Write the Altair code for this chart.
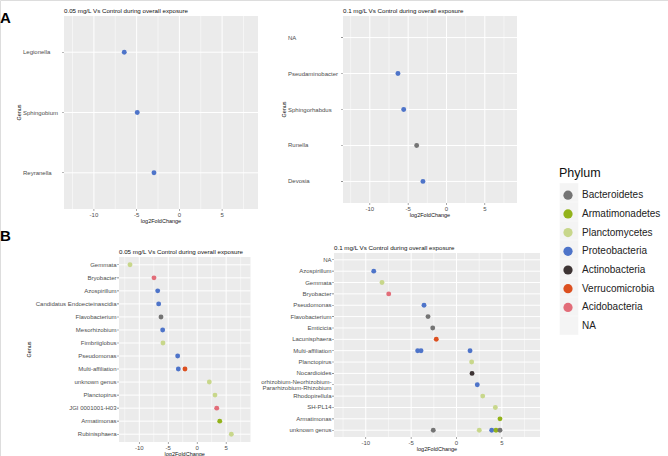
import altair as alt
import pandas as pd

FONT = "Liberation Sans"
CANVAS_W, CANVAS_H = 668, 456

PHYLA = ["Bacteroidetes", "Armatimonadetes", "Planctomycetes", "Proteobacteria",
         "Actinobacteria", "Verrucomicrobia", "Acidobacteria", "NA"]
PHYLA_COLORS = ["#747474", "#93b31b", "#c8d78b", "#4e74c9",
                "#3d3434", "#dc5020", "#e26d79", "rgba(0,0,0,0)"]
LEGEND_KEYS = [p + " key" for p in PHYLA]

X_DOMAIN = [-13.5, 9.2]
MAJOR_TICKS = [-10, -5, 0, 5]
X_TICK_LABELS = ["-10", "-5", "0", "5"]
MINOR_TICKS = [-12.5, -7.5, -2.5, 2.5, 7.5]
X_TITLE = "log2FoldChange"
Y_TITLE = "Genus"

TITLE_05 = "0.05 mg/L Vs Control during overall exposure"
TITLE_01 = "0.1 mg/L Vs Control during overall exposure"

# ---- Panel A, 0.05 mg/L
A1_GENERA = ["Legionella", "Sphingobium", "Reyranella"]
A1_PT_GENUS = ["Legionella", "Sphingobium", "Reyranella"]
A1_PT_LFC = [-6.45, -4.93, -2.97]
A1_PT_PHYLUM = ["Proteobacteria", "Proteobacteria", "Proteobacteria"]

# ---- Panel A, 0.1 mg/L
A2_GENERA = ["NA", "Pseudaminobacter", "Sphingorhabdus", "Runella", "Devosia"]
A2_PT_GENUS = ["Pseudaminobacter", "Sphingorhabdus", "Runella", "Devosia"]
A2_PT_LFC = [-6.33, -5.58, -3.89, -3.07]
A2_PT_PHYLUM = ["Proteobacteria", "Proteobacteria", "Bacteroidetes", "Proteobacteria"]

# ---- Panel B, 0.05 mg/L
B1_GENERA = ["Gemmata", "Bryobacter", "Azospirillum", "Candidatus Endoecteinascidia",
             "Flavobacterium", "Mesorhizobium", "Fimbriiglobus", "Pseudomonas",
             "Multi-affiliation", "unknown genus", "Planctopirus", "JGI 0001001-H03",
             "Armatimonas", "Rubinisphaera"]
B1_PT_GENUS = ["Gemmata", "Bryobacter", "Azospirillum", "Candidatus Endoecteinascidia",
               "Flavobacterium", "Mesorhizobium", "Fimbriiglobus", "Pseudomonas",
               "Multi-affiliation", "Multi-affiliation", "unknown genus", "Planctopirus",
               "JGI 0001001-H03", "Armatimonas", "Rubinisphaera"]
B1_PT_LFC = [-11.6, -7.46, -6.82, -6.65, -6.25, -5.96, -5.91, -3.37,
             -3.26, -2.11, 2.09, 3.07, 3.37, 3.89, 5.89]
B1_PT_PHYLUM = ["Planctomycetes", "Acidobacteria", "Proteobacteria", "Proteobacteria",
                "Bacteroidetes", "Proteobacteria", "Planctomycetes", "Proteobacteria",
                "Proteobacteria", "Verrucomicrobia", "Planctomycetes", "Planctomycetes",
                "Acidobacteria", "Armatimonadetes", "Planctomycetes"]

# ---- Panel B, 0.1 mg/L
B2_GENERA = ["NA", "Azospirillum", "Gemmata", "Bryobacter", "Pseudomonas", "Flavobacterium",
             "Emticicia", "Lacunisphaera", "Multi-affiliation", "Planctopirus", "Nocardioides",
             "orhizobium-Neorhizobium-|Pararhizobium-Rhizobium", "Rhodopirellula", "SH-PL14",
             "Armatimonas", "unknown genus"]
B2_PT_GENUS = ["Azospirillum", "Gemmata", "Bryobacter", "Pseudomonas", "Flavobacterium",
               "Emticicia", "Lacunisphaera", "Multi-affiliation", "Multi-affiliation",
               "Multi-affiliation", "Planctopirus", "Nocardioides",
               "orhizobium-Neorhizobium-|Pararhizobium-Rhizobium", "Rhodopirellula",
               "SH-PL14", "Armatimonas", "unknown genus", "unknown genus", "unknown genus",
               "unknown genus", "unknown genus"]
B2_PT_LFC = [-9.12, -8.21, -7.47, -3.58, -3.14, -2.62, -2.23, -4.28, -3.91, 1.49,
             1.67, 1.71, 2.29, 2.89, 4.28, 4.79, -2.56, 2.51, 3.88, 4.35, 4.79]
B2_PT_PHYLUM = ["Proteobacteria", "Planctomycetes", "Acidobacteria", "Proteobacteria",
                "Bacteroidetes", "Bacteroidetes", "Verrucomicrobia", "Proteobacteria",
                "Proteobacteria", "Proteobacteria", "Planctomycetes", "Actinobacteria",
                "Proteobacteria", "Planctomycetes", "Planctomycetes", "Armatimonadetes",
                "Bacteroidetes", "Planctomycetes", "Proteobacteria", "Armatimonadetes",
                "Bacteroidetes"]

PANEL_LETTERS = ["A", "B"]

COLOR_LEGEND = alt.Legend(
    title="Phylum", orient="none", legendX=559, legendY=167, padding=0,
    titleFont=FONT, titleFontSize=12.5, titleFontWeight="normal", titleColor="#111111",
    titlePadding=10.7, labelFont=FONT, labelFontSize=10, labelColor="#222222",
    symbolType="circle", symbolSize=85, symbolStrokeWidth=0, symbolOffset=4,
    labelOffset=9, rowPadding=8.7, zindex=1,
)

LABEL_GRAY = "#4d4d4d"
TICK_GRAY = "#333333"
LINE_H = 6.5


def panel(title, genera, pt_genus, pt_lfc, pt_phylum, xr, yr,
          label_align, label_dx, y_title_dy):
    xs = alt.Scale(domain=X_DOMAIN, range=xr, nice=False, zero=False)
    fy = alt.Scale(domain=[0, 1], range=[yr[1], yr[0]], nice=False, zero=False)
    ys = alt.Scale(type="point", domain=genera, range=yr, padding=0.6)

    frame_df = pd.DataFrame({"x0": [X_DOMAIN[0]], "x1": [X_DOMAIN[1]],
                             "xm": [(X_DOMAIN[0] + X_DOMAIN[1]) / 2],
                             "y0": [0], "y1": [1], "ym": [0.5],
                             "title": [title], "xt": [X_TITLE], "yt": [Y_TITLE]})
    tick_df = pd.DataFrame({"v": MAJOR_TICKS, "lab": X_TICK_LABELS, "y0": 0, "y1": 1})
    minor_df = pd.DataFrame({"v": MINOR_TICKS, "y0": 0, "y1": 1})

    X = lambda f: alt.X(f, scale=xs, axis=None)
    FY = lambda f: alt.Y(f, scale=fy, axis=None)
    Y = lambda f: alt.Y(f, scale=ys, axis=None)

    bg = alt.Chart(frame_df).mark_rect(color="#ebebeb").encode(
        x=X("x0:Q"), x2="x1", y=FY("y0:Q"), y2="y1")
    minor = alt.Chart(minor_df).mark_rule(color="white", strokeWidth=0.5).encode(
        x=X("v:Q"), y=FY("y0:Q"), y2="y1")
    major = alt.Chart(tick_df).mark_rule(color="white", strokeWidth=1).encode(
        x=X("v:Q"), y=FY("y0:Q"), y2="y1")
    xticks = alt.Chart(tick_df).mark_tick(
        orient="vertical", size=2, thickness=0.6, yOffset=1, color=TICK_GRAY).encode(
        x=X("v:Q"), y=FY("y0:Q"))
    xlabels = alt.Chart(tick_df).mark_text(
        baseline="top", align="center", dy=3, font=FONT, fontSize=6,
        color=LABEL_GRAY).encode(x=X("v:Q"), y=FY("y0:Q"), text="lab:N")
    xtitle = alt.Chart(frame_df).mark_text(
        baseline="top", align="center", dy=10, font=FONT, fontSize=5.5,
        color="#111111").encode(x=X("xm:Q"), y=FY("y0:Q"), text="xt:N")
    ttl = alt.Chart(frame_df).mark_text(
        align="left", baseline="bottom", dy=-2.5, font=FONT, fontSize=6.2,
        color="#111111").encode(x=X("x0:Q"), y=FY("y1:Q"), text="title:N")
    frame_layers = [bg, minor, major, xticks, xlabels, xtitle, ttl]
    if y_title_dy is not None:
        ytitle = alt.Chart(frame_df).mark_text(
            angle=270, align="center", baseline="bottom", dy=y_title_dy, font=FONT,
            fontSize=5.5, color="#111111").encode(x=X("x0:Q"), y=FY("ym:Q"), text="yt:N")
        frame_layers.append(ytitle)
    frame = alt.layer(*frame_layers)

    grid_df = pd.DataFrame({"genus": genera, "x0": X_DOMAIN[0], "x1": X_DOMAIN[1]})
    hgrid = alt.Chart(grid_df).mark_rule(color="white", strokeWidth=1).encode(
        y=Y("genus:N"), x=X("x0:Q"), x2="x1")
    yticks = alt.Chart(grid_df).mark_tick(
        orient="horizontal", size=2, thickness=0.6, xOffset=-1, color=TICK_GRAY).encode(
        y=Y("genus:N"), x=X("x0:Q"))
    label_style = dict(align=label_align, baseline="middle", dx=label_dx, font=FONT,
                       fontSize=6, color=LABEL_GRAY, lineBreak="|", lineHeight=LINE_H)
    ylabels_single = alt.Chart(grid_df).transform_filter(
        "indexof(datum.genus, '|') < 0").mark_text(**label_style).encode(
        y=Y("genus:N"), x=X("x0:Q"), text="genus:N")
    ylabels_multi = alt.Chart(grid_df).transform_filter(
        "indexof(datum.genus, '|') >= 0").mark_text(dy=-LINE_H / 2, **label_style).encode(
        y=Y("genus:N"), x=X("x0:Q"), text="genus:N")
    pts_df = pd.DataFrame({"genus": pt_genus, "lfc": pt_lfc, "phylum": pt_phylum})
    pts = alt.Chart(pts_df).mark_circle(size=24, opacity=1).encode(
        x=X("lfc:Q"), y=Y("genus:N"),
        color=alt.Color("phylum:N", scale=alt.Scale(domain=PHYLA, range=PHYLA_COLORS),
                        legend=COLOR_LEGEND))
    data_layer = alt.layer(hgrid, yticks, ylabels_single, ylabels_multi, pts)
    return alt.layer(frame, data_layer).resolve_scale(y="independent")


pA1 = panel(TITLE_05, A1_GENERA, A1_PT_GENUS, A1_PT_LFC, A1_PT_PHYLUM,
            [64, 258], [16, 209], "left", -41, -42)
pA2 = panel(TITLE_01, A2_GENERA, A2_PT_GENUS, A2_PT_LFC, A2_PT_PHYLUM,
            [343, 517], [16, 203], "left", -55, -56)
pB1 = panel(TITLE_05, B1_GENERA, B1_PT_GENUS, B1_PT_LFC, B1_PT_PHYLUM,
            [119, 250.5], [257, 442], "right", -2.5, -87)
pB2 = panel(TITLE_01, B2_GENERA, B2_PT_GENUS, B2_PT_LFC, B2_PT_PHYLUM,
            [334, 540], [253, 437], "right", -2.5, None)

letter_a = alt.Chart(pd.DataFrame({"t": [PANEL_LETTERS[0]]})).mark_text(
    align="left", baseline="alphabetic", font=FONT, fontSize=15, fontWeight="bold",
    color="#000000").encode(x=alt.value(0), y=alt.value(23), text="t:N")
letter_b = alt.Chart(pd.DataFrame({"t": [PANEL_LETTERS[1]]})).mark_text(
    align="left", baseline="alphabetic", font=FONT, fontSize=15, fontWeight="bold",
    color="#000000").encode(x=alt.value(0), y=alt.value(240.5), text="t:N")

key_bg = alt.Chart(pd.DataFrame({"key": LEGEND_KEYS})).transform_filter("false").mark_point(
    filled=True, color="#f0f0f0").encode(
    shape=alt.Shape("key:N", scale=alt.Scale(domain=LEGEND_KEYS, range=["square"] * len(LEGEND_KEYS)),
                    legend=alt.Legend(title=None, orient="none", legendX=559.5, legendY=183,
                                      padding=0, symbolSize=346, symbolFillColor="#f0f0f0",
                                      symbolStrokeWidth=0, symbolStrokeColor="#f0f0f0",
                                      labelExpr="''", labelFontSize=1, rowPadding=0,
                                      zindex=0)))

chart = alt.layer(letter_a, letter_b, pA1, pA2, pB1, pB2, key_bg).resolve_scale(
    x="independent", y="independent").properties(
    width=CANVAS_W, height=CANVAS_H, padding=0,
    autosize=alt.AutoSizeParams(type="none")).configure_view(
    stroke=None).configure(background="white")

chart.save("out.html", embed_options={"renderer": "svg", "actions": False})
